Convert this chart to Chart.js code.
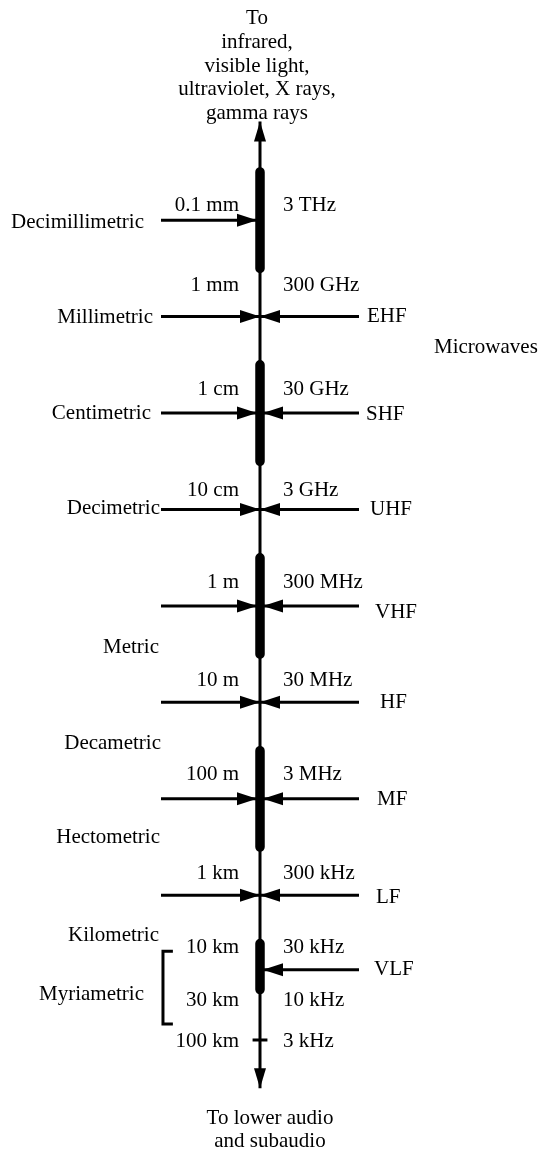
<!DOCTYPE html>
<html><head><meta charset="utf-8">
<script src="https://cdn.jsdelivr.net/npm/chart.js@4.4.1/dist/chart.umd.min.js"></script>
<style>html,body{margin:0;padding:0;background:#fff;}canvas{display:block;}</style>
</head><body>
<canvas id="c" width="542" height="1150"></canvas>
<script>
// ================= DATA =================
// Frequency boundaries marked on the spectrum axis (Hz) and their labels
const boundaryHz       = [3e12, 3e11, 3e10, 3e9, 3e8, 3e7, 3e6, 3e5, 3e4, 1e4, 3e3];
const frequencyLabels  = ['3 THz','300 GHz','30 GHz','3 GHz','300 MHz','30 MHz','3 MHz','300 kHz','30 kHz','10 kHz','3 kHz'];
const wavelengthLabels = ['0.1 mm','1 mm','1 cm','10 cm','1 m','10 m','100 m','1 km','10 km','30 km','100 km'];

// ITU band designations (arrows from the right) and where they point (Hz)
const bandNames   = ['EHF','SHF','UHF','VHF','HF','MF','LF','VLF'];
const bandArrowHz = [9.5e10, 9.5e9, 9.5e8, 9.5e7, 9.5e6, 9.5e5, 9.5e4, 1.6e4];

// Arrows from the left (wavelength-name side) (Hz)
const leftArrowHz = [9.5e11, 9.5e10, 9.5e9, 9.5e8, 9.5e7, 9.5e6, 9.5e5, 9.5e4];

// Metric wavelength band names and where they sit on the axis (Hz)
const wavelengthNames  = ['Decimillimetric','Millimetric','Centimetric','Decimetric','Metric','Decametric','Hectometric','Kilometric','Myriametric'];
const wavelengthNameHz = [8.9e11, 9.2e10, 9.3e9, 9.8e8, 3.5e7, 3.6e6, 3.8e5, 3.6e4, 8.8e3];

// Heavy (emphasised) stretches of the axis (Hz)
const heavyFromHz = [3e12, 3e10, 3e8, 3e6, 3e4];
const heavyToHz   = [3e11, 3e9, 3e7, 3e5, 1e4];

// Axis extent (arrow tips), tick and Myriametric bracket (Hz)
const axisEndsHz     = [1e13, 950];
const tickHz         = [3e3];
const myriaBracketHz = [2.5e4, 4.4e3];
const microwavesHz   = 4.5e10;

const topTitleLines    = ['To','infrared,','visible light,','ultraviolet, X rays,','gamma rays'];
const bottomTitleLines = ['To lower audio','and subaudio'];
const microwavesLabel  = 'Microwaves';

// ================= LAYOUT / STYLE =================
const W = 542, H = 1150;
const SPINE_PX = 260, ARM_PX = 99;
const xMin = -SPINE_PX / ARM_PX, xMax = (W - SPINE_PX) / ARM_PX;
const yTopHz = 1.82e14, yBottomHz = 217;
const FONT = '21px "Liberation Serif", "Times New Roman", serif';
const boundaryLabelDy = [34, 17, 25, 29, 25, 26, 24, 26, 4, 11, 1];
const bandLabelDx = [8, 7, 11, 16, 21, 18, 17, 15];
const bandLabelDy = [0, 1, 0, 7, 0, 1, 2, 0];
const nameLabelDx = [-17, -8, -10, -1, -2, 0, -1, -2, -17];

const inHeavy = f => heavyFromHz.some((a, i) => f <= a && f >= heavyToHz[i]);

function line(pts, w, extra) {
  return Object.assign({
    data: pts, showLine: true, borderColor: '#000', backgroundColor: '#000',
    borderWidth: w, pointRadius: 0, pointHoverRadius: 0, fill: false, tension: 0,
    borderCapStyle: 'butt'
  }, extra || {});
}

const datasets = [];
// main axis
datasets.push(line([{x: 0, y: axisEndsHz[0]}, {x: 0, y: axisEndsHz[1]}], 3,
  {head: 'both', headLen: 20, headHalf: 6, inset: 0}));
// heavy segments
heavyFromHz.forEach((f, i) => datasets.push(line([{x: 0, y: f}, {x: 0, y: heavyToHz[i]}], 9.5, {borderCapStyle: 'round'})));
// left arrows
leftArrowHz.forEach(f => datasets.push(line([{x: -1, y: f}, {x: 0, y: f}], 3,
  {head: 'end', headLen: 20, headHalf: 6.5, inset: inHeavy(f) ? 3 : 0})));
// right arrows (bands)
bandArrowHz.forEach(f => datasets.push(line([{x: 1, y: f}, {x: 0, y: f}], 3,
  {head: 'end', headLen: 20, headHalf: 6.5, inset: inHeavy(f) ? 3 : 0})));
// tick at 3 kHz
tickHz.forEach(f => datasets.push(line([{x: -0.075, y: f}, {x: 0.075, y: f}], 3)));
// Myriametric bracket
datasets.push(line([{x: -0.88, y: myriaBracketHz[0]}, {x: -0.98, y: myriaBracketHz[0]},
  {x: -0.98, y: myriaBracketHz[1]}, {x: -0.88, y: myriaBracketHz[1]}], 3, {borderJoinStyle: 'miter'}));

const arrowHeads = {
  id: 'arrowHeads',
  afterDatasetsDraw(chart) {
    const ctx = chart.ctx;
    ctx.save();
    ctx.fillStyle = '#000';
    const head = (tip, from, ds) => {
      const dx = tip.x - from.x, dy = tip.y - from.y;
      const d = Math.hypot(dx, dy), ux = dx / d, uy = dy / d;
      const tx = tip.x - ux * ds.inset, ty = tip.y - uy * ds.inset;
      const bx = tx - ux * ds.headLen, by = ty - uy * ds.headLen;
      ctx.beginPath();
      ctx.moveTo(tx, ty);
      ctx.lineTo(bx - uy * ds.headHalf, by + ux * ds.headHalf);
      ctx.lineTo(bx + uy * ds.headHalf, by - ux * ds.headHalf);
      ctx.closePath();
      ctx.fill();
    };
    chart.data.datasets.forEach((ds, i) => {
      if (!ds.head) return;
      const p = chart.getDatasetMeta(i).data;
      const n = p.length;
      head(p[n - 1], p[n - 2], ds);
      if (ds.head === 'both') head(p[0], p[1], ds);
    });
    ctx.restore();
  }
};

const labels = {
  id: 'labels',
  afterDraw(chart) {
    const ctx = chart.ctx, xs = chart.scales.x, ys = chart.scales.y;
    const sx = xs.getPixelForValue(0);
    const armL = xs.getPixelForValue(-1), armR = xs.getPixelForValue(1);
    ctx.save();
    ctx.fillStyle = '#000';
    ctx.font = FONT;
    ctx.textBaseline = 'middle';
    const t = (s, x, y, a) => { ctx.textAlign = a; ctx.fillText(s, x, y); };
    boundaryHz.forEach((f, i) => {
      const y = ys.getPixelForValue(f) + boundaryLabelDy[i];
      t(wavelengthLabels[i], sx - 21, y, 'right');
      t(frequencyLabels[i], sx + 23, y, 'left');
    });
    bandNames.forEach((s, i) => t(s, armR + bandLabelDx[i], ys.getPixelForValue(bandArrowHz[i]) + bandLabelDy[i], 'left'));
    wavelengthNames.forEach((s, i) => t(s, armL + nameLabelDx[i], ys.getPixelForValue(wavelengthNameHz[i]), 'right'));
    t(microwavesLabel, armR + 75, ys.getPixelForValue(microwavesHz), 'left');
    const topY = ys.getPixelForValue(axisEndsHz[0]) - 8;
    topTitleLines.forEach((s, i) => t(s, sx - 3, topY - (topTitleLines.length - 1 - i) * 23.7, 'center'));
    const botY = ys.getPixelForValue(axisEndsHz[1]) + 30;
    bottomTitleLines.forEach((s, i) => t(s, sx + 10, botY + i * 23.3, 'center'));
    ctx.restore();
  }
};

new Chart(document.getElementById('c'), {
  type: 'scatter',
  data: {datasets},
  options: {
    responsive: false, animation: false, devicePixelRatio: 1,
    layout: {padding: 0},
    plugins: {legend: {display: false}, tooltip: {enabled: false}},
    scales: {
      x: {type: 'linear', display: false, min: xMin, max: xMax, bounds: 'data'},
      y: {type: 'logarithmic', display: false, min: yBottomHz, max: yTopHz, bounds: 'data'}
    }
  },
  plugins: [arrowHeads, labels]
});
</script>
</body></html>
